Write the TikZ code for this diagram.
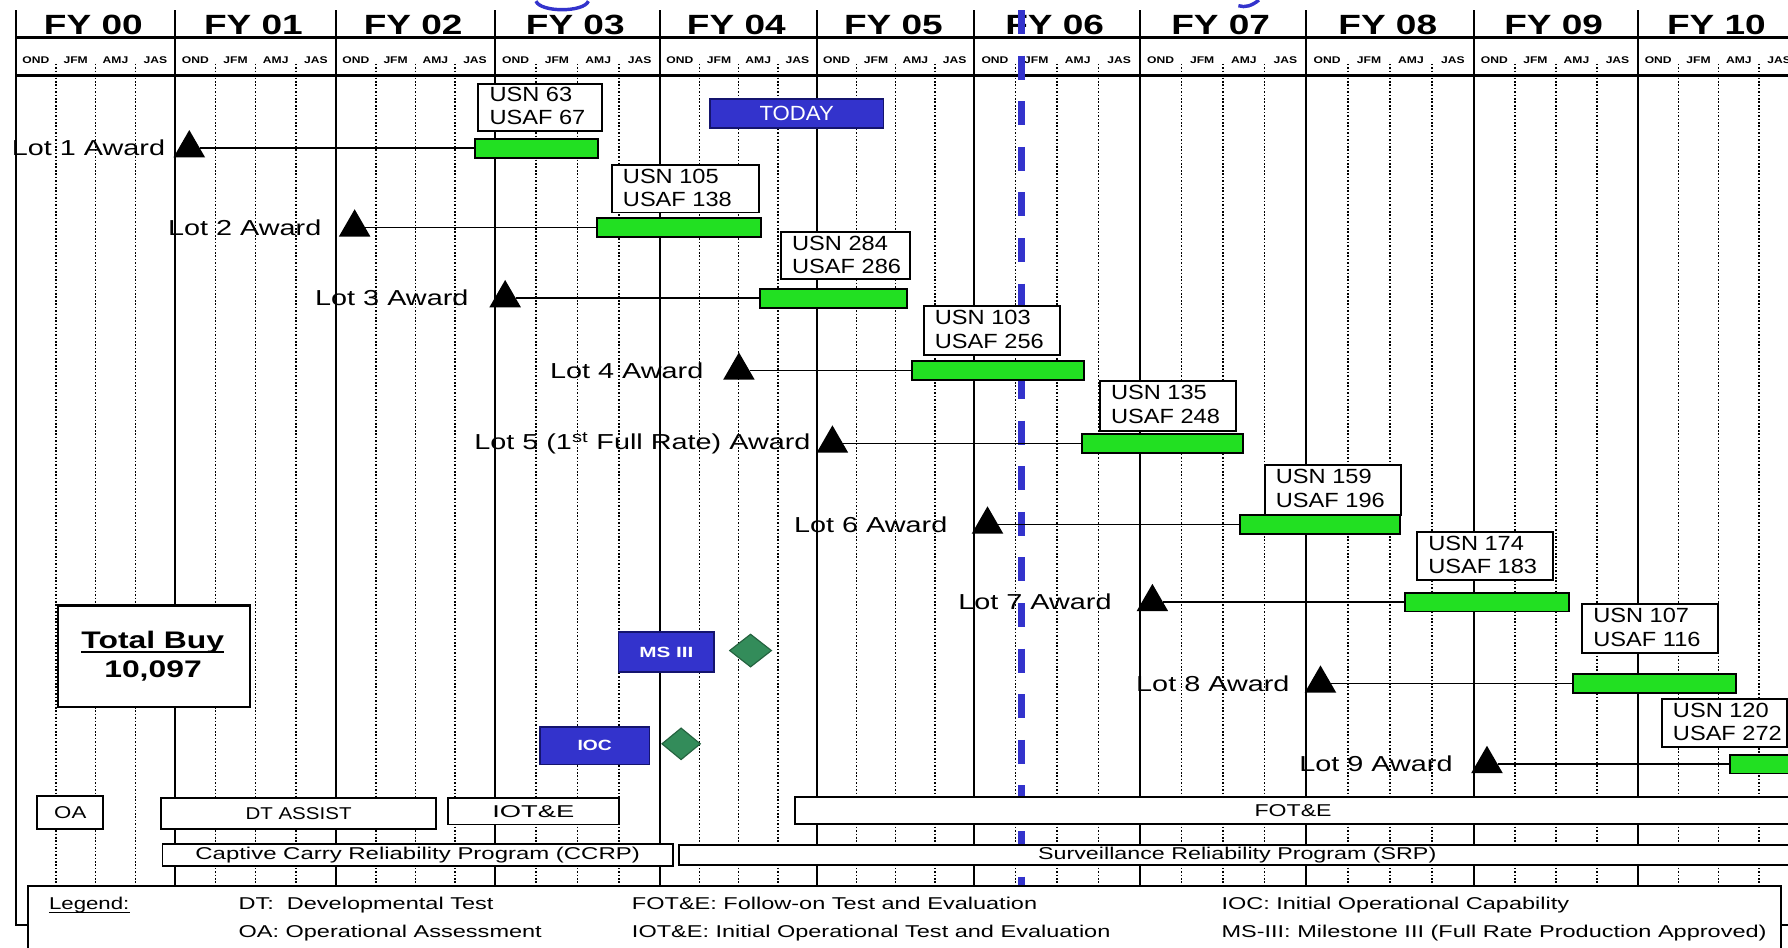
\documentclass[tikz,border=0pt]{standalone}
\usepackage{fontspec}
\setmainfont{Liberation Sans}
\usetikzlibrary{shapes.geometric}
\definecolor{barg}{RGB}{34,224,34}
\definecolor{tblue}{RGB}{51,51,204}
\definecolor{navy}{RGB}{20,20,110}
\definecolor{dgreen}{RGB}{51,140,90}
\newcommand{\wid}[2]{\scalebox{#1}[1]{#2}}
\begin{document}
\begin{tikzpicture}[x=1pt,y=-1pt,
  solidgrid/.style={line width=1.8pt, black},
  dotgrid/.style={line width=1.3pt, black, dash pattern=on 1.4pt off 1.6pt},
  hdrline/.style={line width=2.6pt, black},
  fylbl/.style={anchor=base, inner sep=0pt, font=\fontsize{24.4}{26}\selectfont\bfseries},
  mlbl/.style={inner sep=0pt, font=\fontsize{8.5}{9}\selectfont\bfseries},
  lotlbl/.style={anchor=east, inner sep=0pt, font=\fontsize{19}{21}\selectfont},
  awd/.style={regular polygon, regular polygon sides=3, fill=black, minimum size=32pt, inner sep=0pt},
  lotbar/.style={draw=black, line width=1.6pt, fill=barg, minimum height=16.5pt, inner sep=0pt},
  qbox/.style={draw=black, line width=1.6pt, fill=white, anchor=north west, inner sep=0pt},
  qtxt/.style={anchor=west, inner sep=0pt, font=\fontsize{18}{20}\selectfont},
  lotline/.style={line width=1.5pt, black},
  bluebox/.style={draw=navy, line width=1.5pt, fill=tblue, inner sep=0pt, text=white},
  gdiamond/.style={diamond, draw=dgreen!70!black, line width=1pt, fill=dgreen, inner sep=0pt},
  phasebox/.style={draw=black, line width=1.6pt, fill=white, inner sep=0pt},
  phtxt/.style={inner sep=0pt, font=\fontsize{15}{17}\selectfont},
  legtxt/.style={anchor=base west, inner sep=0pt, font=\fontsize{15}{17}\selectfont},
]
\useasboundingbox (0,0) rectangle (1568,830.5);
\fill[white] (0,0) rectangle (1568,830.5);

% title fragments (cut off at top)
\draw[tblue, line width=3pt] (470,1) .. controls (474,11) and (512,11) .. (516,1);
\draw[tblue, line width=3pt] (1104,0) .. controls (1098,5) and (1092,7) .. (1086,5);

% grid and header
\foreach \ya/\yb/\lab in {14/153.7/00,153.7/294.7/01,294.7/434/02,434/579/03,579/716.5/04,716.5/854.4/05,854.4/999.5/06,999.5/1145.5/07,1145.5/1292.5/08,1292.5/1436.5/09,1436.5/1578/10}{
  \foreach \k in {1,2,3}{\draw[dotgrid] ({\ya+(\yb-\ya)*\k/4},56) -- ({\ya+(\yb-\ya)*\k/4},776);}
  \draw[solidgrid] (\ya,8.8) -- (\ya,776);
  \node[fylbl] (fy\lab) at ({(\ya+\yb)/2-2},30.5) {\wid{1.33}{FY \lab}};
  \foreach \m [count=\j from 0] in {OND,JFM,AMJ,JAS}{\node[mlbl] (m\lab\m) at ({\ya+(\yb-\ya)*(\j+0.5)/4},53) {\wid{1.25}{\m}};}
}
\draw[solidgrid] (14,776) -- (14,811) -- (1568,811);
\draw[hdrline] (14,33) -- (1568,33);
\draw[hdrline] (14,66.6) -- (1568,66.6);

% today line
\draw[line width=6pt, tblue, dash pattern=on 21pt off 19pt] (896,8.8) -- (896,776);
\node[bluebox, minimum width=152pt, minimum height=25.5pt, font=\fontsize{18}{20}\selectfont] (today) at (698.7,99.75) {\wid{1.08}{TODAY}};

% Lot 1
\node[lotbar, minimum width=108.1pt] (b1) at (470.65,130) {};
\node[qbox, minimum width=108.2pt, minimum height=41.5pt] (q1) at (418.6,72.5) {};
\node[qtxt] (q1a) at ([shift={(10.5,10.4)}]q1.north west) {\wid{1.15}{USN 63}};
\node[qtxt] (q1b) at ([shift={(10.5,30.9)}]q1.north west) {\wid{1.15}{USAF 67}};
\node[lotlbl] (l1) at (145,130) {\wid{1.33}{Lot 1 Award}};
\node[awd] (t1) at (166,130) {};
\draw[lotline] (t1.east) -- (b1.west);

% Lot 2
\node[lotbar, minimum width=143.3pt] (b2) at (595.45,199.5) {};
\node[qbox, minimum width=129.4pt, minimum height=41.6pt] (q2) at (535.6,144) {};
\node[qtxt] (q2a) at ([shift={(10.5,10.4)}]q2.north west) {\wid{1.15}{USN 105}};
\node[qtxt] (q2b) at ([shift={(10.5,30.9)}]q2.north west) {\wid{1.15}{USAF 138}};
\node[lotlbl] (l2) at (282,199.5) {\wid{1.33}{Lot 2 Award}};
\node[awd] (t2) at (311,199.5) {};
\draw[lotline] (t2.east) -- (b2.west);

% Lot 3
\node[lotbar, minimum width=128.9pt] (b3) at (730.95,261.5) {};
\node[qbox, minimum width=113pt, minimum height=41pt] (q3) at (684,203) {};
\node[qtxt] (q3a) at ([shift={(10.5,10.4)}]q3.north west) {\wid{1.15}{USN 284}};
\node[qtxt] (q3b) at ([shift={(10.5,30.9)}]q3.north west) {\wid{1.15}{USAF 286}};
\node[lotlbl] (l3) at (411,261.5) {\wid{1.33}{Lot 3 Award}};
\node[awd] (t3) at (443,261.5) {};
\draw[lotline] (t3.east) -- (b3.west);

% Lot 4
\node[lotbar, minimum width=150.8pt] (b4) at (875,325) {};
\node[qbox, minimum width=119.8pt, minimum height=43.2pt] (q4) at (809.2,267.5) {};
\node[qtxt] (q4a) at ([shift={(10.5,10.8)}]q4.north west) {\wid{1.15}{USN 103}};
\node[qtxt] (q4b) at ([shift={(10.5,31.8)}]q4.north west) {\wid{1.15}{USAF 256}};
\node[lotlbl] (l4) at (617,325) {\wid{1.33}{Lot 4 Award}};
\node[awd] (t4) at (648,325) {};
\draw[lotline] (t4.east) -- (b4.west);

% Lot 5
\node[lotbar, minimum width=140.8pt] (b5) at (1019.4,389) {};
\node[qbox, minimum width=119.1pt, minimum height=43.7pt] (q5) at (963.7,333.3) {};
\node[qtxt] (q5a) at ([shift={(10.5,10.8)}]q5.north west) {\wid{1.15}{USN 135}};
\node[qtxt] (q5b) at ([shift={(10.5,31.8)}]q5.north west) {\wid{1.15}{USAF 248}};
\node[lotlbl] (l5) at (711,389) {\wid{1.33}{Lot 5 (1\textsuperscript{st} Full Rate) Award}};
\node[awd] (t5) at (730,389) {};
\draw[lotline] (t5.east) -- (b5.west);

% Lot 6
\node[lotbar, minimum width=140.5pt] (b6) at (1157.75,460) {};
\node[qbox, minimum width=119.8pt, minimum height=43.8pt] (q6) at (1108.2,407) {};
\node[qtxt] (q6a) at ([shift={(10.5,10.8)}]q6.north west) {\wid{1.15}{USN 159}};
\node[qtxt] (q6b) at ([shift={(10.5,31.8)}]q6.north west) {\wid{1.15}{USAF 196}};
\node[lotlbl] (l6) at (831,460) {\wid{1.33}{Lot 6 Award}};
\node[awd] (t6) at (866,460) {};
\draw[lotline] (t6.east) -- (b6.west);

% Lot 7
\node[lotbar, minimum width=143.3pt] (b7) at (1304.05,528) {};
\node[qbox, minimum width=119.4pt, minimum height=42.3pt] (q7) at (1241.8,465.7) {};
\node[qtxt] (q7a) at ([shift={(10.5,10.6)}]q7.north west) {\wid{1.15}{USN 174}};
\node[qtxt] (q7b) at ([shift={(10.5,31.3)}]q7.north west) {\wid{1.15}{USAF 183}};
\node[lotlbl] (l7) at (975,528) {\wid{1.33}{Lot 7 Award}};
\node[awd] (t7) at (1010.6,528) {};
\draw[lotline] (t7.east) -- (b7.west);

% Lot 8
\node[lotbar, minimum width=142.8pt] (b8) at (1450.9,599.5) {};
\node[qbox, minimum width=118.9pt, minimum height=43pt] (q8) at (1386.6,529) {};
\node[qtxt] (q8a) at ([shift={(10.5,10.8)}]q8.north west) {\wid{1.15}{USN 107}};
\node[qtxt] (q8b) at ([shift={(10.5,31.8)}]q8.north west) {\wid{1.15}{USAF 116}};
\node[lotlbl] (l8) at (1131,599.5) {\wid{1.33}{Lot 8 Award}};
\node[awd] (t8) at (1158,599.5) {};
\draw[lotline] (t8.east) -- (b8.west);

% Lot 9
\node[lotbar, minimum width=73pt] (b9) at (1553.5,670) {};
\node[qbox, minimum width=109.6pt, minimum height=42pt] (q9) at (1456.4,612) {};
\node[qtxt] (q9a) at ([shift={(10.5,10.6)}]q9.north west) {\wid{1.15}{USN 120}};
\node[qtxt] (q9b) at ([shift={(10.5,31.3)}]q9.north west) {\wid{1.15}{USAF 272}};
\node[lotlbl] (l9) at (1274,670) {\wid{1.33}{Lot 9 Award}};
\node[awd] (t9) at (1304,670) {};
\draw[lotline] (t9.east) -- (b9.west);

% Total buy
\node[phasebox, line width=2pt, minimum width=168pt, minimum height=89pt, anchor=north west] (tb) at (50,530) {};
\node[anchor=base, inner sep=0pt, font=\fontsize{21}{23}\selectfont\bfseries] (tbt) at (134,569) {\wid{1.33}{Total Buy}};
\draw[line width=2pt] ([shift={(0,3)}]tbt.base west) -- ([shift={(0,3)}]tbt.base east);
\node[anchor=base, inner sep=0pt, font=\fontsize{21}{23}\selectfont\bfseries] (tbn) at (134.2,594) {\wid{1.33}{10,097}};

% milestones
\node[bluebox, minimum width=84pt, minimum height=34.5pt, font=\fontsize{13}{14}\selectfont\bfseries] (ms3) at (584.35,571.75) {\wid{1.4}{MS III}};
\node[gdiamond, minimum width=37pt, minimum height=29pt] (msd) at (658.2,570.5) {};
\node[bluebox, minimum width=96pt, minimum height=33pt, font=\fontsize{13}{14}\selectfont\bfseries] (ioc) at (521.5,653.8) {\wid{1.3}{IOC}};
\node[gdiamond, minimum width=34pt, minimum height=28pt] (iocd) at (597.3,652.3) {};

% test phases
\node[phasebox, phtxt, minimum width=57.9pt, minimum height=29.3pt] (oa) at (61.65,712.65) {\wid{1.3}{OA}};
\node[phasebox, phtxt, minimum width=241.6pt, minimum height=27.3pt] (dta) at (261.8,713.65) {\wid{1.2}{DT ASSIST}};
\node[phasebox, phtxt, minimum width=150pt, minimum height=23pt] (iote) at (467.7,711.5) {\wid{1.6}{IOT\&E}};
\node[phasebox, minimum width=903pt, minimum height=23.9pt] (fote) at (1148.5,710.65) {};
\node[phtxt] (fotet) at (1134,710.65) {\wid{1.35}{FOT\&E}};
\node[phasebox, phtxt, minimum width=447.5pt, minimum height=19.5pt] (ccrp) at (366.25,749.75) {\wid{1.4}{Captive Carry Reliability Program (CCRP)}};
\node[phasebox, minimum width=1004.5pt, minimum height=17.6pt] (srp) at (1097.75,749.8) {};
\node[phtxt] (srpt) at (1085,749.8) {\wid{1.36}{Surveillance Reliability Program (SRP)}};

% legend
\node[phasebox, minimum width=1537pt, minimum height=70pt, anchor=north west] (leg) at (24,776) {};
\node[legtxt] (lg) at (42.8,797.4) {\wid{1.3}{Legend:}};
\draw[line width=1.3pt] ([shift={(0,3)}]lg.base west) -- ([shift={(0,3)}]lg.base east);
\node[legtxt] (lgdt) at (209,797.4) {\wid{1.375}{DT:\ \ Developmental Test}};
\node[legtxt] (lgoa) at (209,822.4) {\wid{1.375}{OA: Operational Assessment}};
\node[legtxt] (lgfot) at (554,797.4) {\wid{1.375}{FOT\&E: Follow-on Test and Evaluation}};
\node[legtxt] (lgiot) at (554,822.4) {\wid{1.375}{IOT\&E: Initial Operational Test and Evaluation}};
\node[legtxt] (lgioc) at (1071,797.4) {\wid{1.375}{IOC: Initial Operational Capability}};
\node[legtxt] (lgms) at (1071,822.4) {\wid{1.375}{MS-III: Milestone III (Full Rate Production Approved)}};
\end{tikzpicture}
\end{document}
